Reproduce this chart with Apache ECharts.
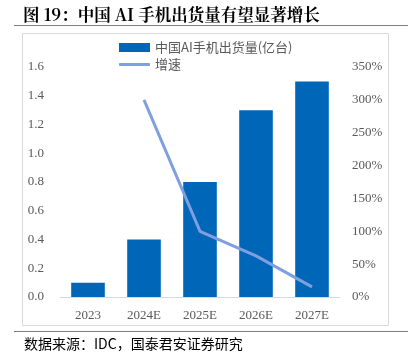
<!DOCTYPE html>
<html><head><meta charset="utf-8">
<script src="https://cdn.jsdelivr.net/npm/echarts@6/dist/echarts.min.js"></script>
<style>html,body{margin:0;padding:0;background:#fff}#c{width:408px;height:358px}</style>
</head><body><div id="c"></div>
<script>
var categories = ['2023','2024E','2025E','2026E','2027E'];
var shipments = [0.1, 0.4, 0.8, 1.3, 1.5];
var growth = [null, 300, 100, 62.5, 15.4];
var leftTicks = ['0.0','0.2','0.4','0.6','0.8','1.0','1.2','1.4','1.6'];
var seriesNames = ['中国AI手机出货量(亿台)', '增速'];
var titleText = '图 19：中国 AI 手机出货量有望显著增长';
var sourceText = '数据来源：IDC，国泰君安证券研究';

var chart = echarts.init(document.getElementById('c'));
var serif = '"Liberation Serif","Times New Roman",serif';
var legendText = {color:'#595959', fontSize:13, fontFamily:'"Noto Sans CJK SC",sans-serif'};
chart.setOption({
  animation: false,
  graphic: [
    {type:'text', left:23, top:6, style:{text:titleText, font:'bold 16.5px "Noto Serif CJK SC","Noto Sans CJK SC",serif', fill:'#000'}},
    {type:'line', shape:{x1:14,y1:25.5,x2:408,y2:25.5}, style:{stroke:'#7f7f7f', lineWidth:1}},
    {type:'rect', shape:{x:22.5,y:33.5,width:366,height:292}, style:{fill:'none', stroke:'#d9d9d9', lineWidth:1}},
    {type:'line', shape:{x1:14,y1:331.5,x2:408,y2:331.5}, style:{stroke:'#7f7f7f', lineWidth:1}},
    {type:'text', left:24, top:337, style:{text:sourceText, font:'14px "Noto Sans CJK SC",sans-serif', fill:'#000'}}
  ],
  legend: [
    {left:114, top:36, itemWidth:31, itemHeight:9, textStyle:legendText,
     data:[{name:seriesNames[0], icon:'rect'}]},
    {left:114, top:53, itemWidth:31, itemHeight:3, textStyle:legendText,
     data:[{name:seriesNames[1], icon:'roundRect'}]}
  ],
  grid: {left:60, right:68, top:67, bottom:61},
  xAxis: {
    type:'category', data:categories,
    axisLine:{lineStyle:{color:'#d9d9d9'}}, axisTick:{show:false},
    axisLabel:{color:'#595959', fontSize:13, fontFamily:serif, margin:12}
  },
  yAxis: [
    {type:'value', min:0, max:1.6, interval:0.2, splitLine:{show:false},
     axisLine:{show:false}, axisTick:{show:false},
     axisLabel:{color:'#595959', fontSize:13, fontFamily:serif, margin:16,
       formatter:function(v,i){return leftTicks[Math.round(v/0.2)];}}},
    {type:'value', min:0, max:350, interval:50, splitLine:{show:false},
     axisLine:{show:false}, axisTick:{show:false},
     axisLabel:{color:'#595959', fontSize:13, fontFamily:serif, margin:12, formatter:'{value}%'}}
  ],
  series: [
    {name:seriesNames[0], type:'bar', data:shipments, barWidth:'60%', itemStyle:{color:'#0066b8'}, yAxisIndex:0},
    {name:seriesNames[1], type:'line', data:growth, yAxisIndex:1, symbol:'none', lineStyle:{color:'#7f9fe0', width:3}, itemStyle:{color:'#7f9fe0'}}
  ]
});
</script></body></html>
